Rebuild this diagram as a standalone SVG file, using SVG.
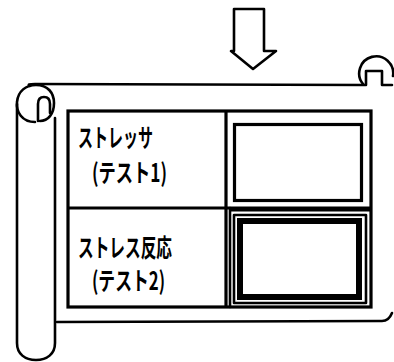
<svg xmlns="http://www.w3.org/2000/svg" width="394" height="362" viewBox="0 0 394 362">
<style>
.ln{fill:none;stroke:#000;stroke-width:2.6;stroke-linecap:round;stroke-linejoin:round}
.th{fill:none;stroke:#000;stroke-width:3.2}
.tk{fill:none;stroke:#000;stroke-width:6}
.tx{font-family:"Noto Sans CJK JP","Noto Sans",sans-serif;font-size:25px;font-weight:bold;fill:#000}
</style>
<rect width="394" height="362" fill="#fff"/>
<g id="arrow">
<path class="ln" d="M234,9 H264 V51 H276 L253,69 L231,51 H234 Z"/>
</g>
<g id="scroll">
<path class="ln" d="M30,86 Q26,84 35,84 L365,85"/>
<path class="ln" d="M35,122 C22,122 16,112 17,102 C18,91 26,85 36,85 C48,85 54,93 54,103 C54,114 48,121 40,121"/>
<path class="ln" d="M38,121 V104 C38,98 41,97 44,97 C48,97 50,100 50,104 V113"/>
<path class="ln" d="M17,104 V343 C17,354 25,360 36,360 C47,360 55,354 55,343 V118"/>
<path class="ln" d="M57,322 L382,321 C387,321 390,318 392,313"/>
<path class="ln" d="M363,84 A17,17 0 1 1 393,76"/>
<path class="ln" d="M366,85 V71 H382 V85 H392"/>
</g>
<g id="table">
<rect class="th" x="68" y="111" width="303" height="196"/>
<line class="th" x1="68" y1="208" x2="371" y2="208"/>
<line class="th" x1="226" y1="111" x2="226" y2="307"/>
<line class="ln" x1="230" y1="208" x2="230" y2="307"/>
<line class="th" x1="230" y1="210" x2="371" y2="210"/>
</g>
<g id="cell-stressor">
<text class="tx" x="78" y="147" textLength="75" lengthAdjust="spacingAndGlyphs">ストレッサ</text>
<text class="tx" x="92" y="182" textLength="75" lengthAdjust="spacingAndGlyphs">(テスト1)</text>
</g>
<g id="frame-1">
<rect class="th" x="234.5" y="124.5" width="127" height="76"/>
</g>
<g id="cell-response">
<text class="tx" x="78" y="257" textLength="94" lengthAdjust="spacingAndGlyphs">ストレス反応</text>
<text class="tx" x="92" y="290" textLength="73" lengthAdjust="spacingAndGlyphs">(テスト2)</text>
</g>
<g id="frame-2">
<rect class="ln" x="234" y="215" width="132" height="88" stroke-width="2"/>
<rect class="tk" x="240" y="221" width="119" height="76"/>
</g>
</svg>
